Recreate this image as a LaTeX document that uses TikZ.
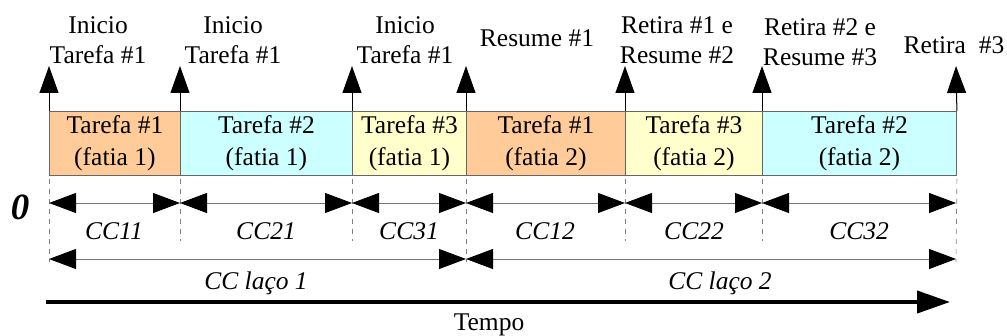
\documentclass[tikz,border=0pt]{standalone}
\usepackage{fontspec}
\setmainfont{Liberation Serif}
\usetikzlibrary{arrows.meta}
\definecolor{orng}{HTML}{FFCC99}
\definecolor{cyn}{HTML}{CCFFFF}
\definecolor{ylw}{HTML}{FFFFCC}
\begin{document}
\begin{tikzpicture}[x=1pt,y=-1pt,
 box/.style={draw=black!60, line width=0.9pt, inner sep=0pt, minimum height=64pt, anchor=north west, align=center, font=\fontsize{25.5}{32}\selectfont},
 lbl/.style={align=center, font=\fontsize{25.5}{30}\selectfont, inner sep=0pt},
 ev/.style={draw=black, line width=1pt, -{Triangle[length=27pt,width=19pt]}},
 dimarr/.style={draw=black!55, line width=0.9pt, {Triangle[length=27pt,width=20pt,color=black]}-{Triangle[length=27pt,width=20pt,color=black]}},
 guide/.style={draw=black!50, line width=0.7pt, dash pattern=on 5pt off 5pt},
 cc/.style={font=\itshape\fontsize{25.5}{29}\selectfont, inner sep=0pt}]
\useasboundingbox (0,0) rectangle (1007,336);
% boxes
\node[box, fill=orng, minimum width=131pt] (b1) at (49,111) {Tarefa \#1\\(fatia 1)};
\node[box, fill=cyn, minimum width=172pt] (b2) at (180,111) {Tarefa \#2\\(fatia 1)};
\node[box, fill=ylw, minimum width=114pt] (b3) at (352,111) {Tarefa \#3\\(fatia 1)};
\node[box, fill=orng, minimum width=159pt] (b4) at (466,111) {Tarefa \#1\\(fatia 2)};
\node[box, fill=ylw, minimum width=137pt] (b5) at (625,111) {Tarefa \#3\\(fatia 2)};
\node[box, fill=cyn, minimum width=194pt] (b6) at (762,111) {Tarefa \#2\\(fatia 2)};
% event arrows
\coordinate (e1) at (49,66);
\coordinate (e2) at (180,66);
\coordinate (e3) at (352,66);
\coordinate (e4) at (466,66);
\coordinate (e5) at (625,66);
\coordinate (e6) at (762,66);
\coordinate (e7) at (956,66);
\draw[ev] (b1.north west) -- (e1);
\draw[ev] (b2.north west) -- (e2);
\draw[ev] (b3.north west) -- (e3);
\draw[ev] (b4.north west) -- (e4);
\draw[ev] (b5.north west) -- (e5);
\draw[ev] (b6.north west) -- (e6);
\draw[ev] (b6.north east) -- (e7);
% event labels
\node[lbl] (l1) at (98,40) {Inicio\\Tarefa \#1};
\node[lbl] (l2) at (233,40) {Inicio\\Tarefa \#1};
\node[lbl] (l3) at (405,40) {Inicio\\Tarefa \#1};
\node[lbl] (l4) at (537,38) {Resume \#1};
\node[lbl] (l5) at (677,40) {Retira \#1 e\\Resume \#2};
\node[lbl] (l6) at (820,42) {Retira \#2 e\\Resume \#3};
\node[lbl] (l7) at (954,45) {Retira\ \ \#3};
% guides
\coordinate (g1) at (49,262);
\coordinate (g2) at (180,241);
\coordinate (g3) at (352,241);
\coordinate (g4) at (466,262);
\coordinate (g5) at (625,241);
\coordinate (g6) at (762,241);
\coordinate (g7) at (956,262);
\draw[guide] ([yshift=-3pt]b1.south west) -- (g1);
\draw[guide] ([yshift=-3pt]b2.south west) -- (g2);
\draw[guide] ([yshift=-3pt]b3.south west) -- (g3);
\draw[guide] ([yshift=-3pt]b4.south west) -- (g4);
\draw[guide] ([yshift=-3pt]b5.south west) -- (g5);
\draw[guide] ([yshift=-3pt]b6.south west) -- (g6);
\draw[guide] ([yshift=-3pt]b6.south east) -- (g7);
% dimension arrows
\coordinate (d0) at (49,203);
\coordinate (d1) at (180,203);
\coordinate (d2) at (352,203);
\coordinate (d3) at (466,203);
\coordinate (d4) at (625,203);
\coordinate (d5) at (762,203);
\coordinate (d6) at (956,203);
\draw[dimarr] (d0) -- (d1);
\draw[dimarr] (d1) -- (d2);
\draw[dimarr] (d2) -- (d3);
\draw[dimarr] (d3) -- (d4);
\draw[dimarr] (d4) -- (d5);
\draw[dimarr] (d5) -- (d6);
\node[cc] (c11) at (114,231) {CC11};
\node[cc] (c21) at (266,231) {CC21};
\node[cc] (c31) at (409,231) {CC31};
\node[cc] (c12) at (545,231) {CC12};
\node[cc] (c22) at (694,231) {CC22};
\node[cc] (c32) at (859,231) {CC32};
% loop arrows
\coordinate (L0) at (49,259);
\coordinate (L1) at (466,259);
\coordinate (L2) at (956,259);
\draw[dimarr] (L0) -- (L1);
\draw[dimarr] (L1) -- (L2);
\node[cc] (cl1) at (256,283) {CC laço 1};
\node[cc] (cl2) at (720,283) {CC laço 2};
% time axis
\coordinate (t0) at (46,302);
\coordinate (t1) at (950,302);
\draw[line width=4pt, -{Triangle[length=33pt,width=22pt]}] (t0) -- (t1);
\node[lbl] (tempo) at (489,325) {Tempo};
\node[font=\bfseries\itshape\fontsize{37}{37}\selectfont, inner sep=0pt] (zero) at (20,207) {0};
\end{tikzpicture}
\end{document}
